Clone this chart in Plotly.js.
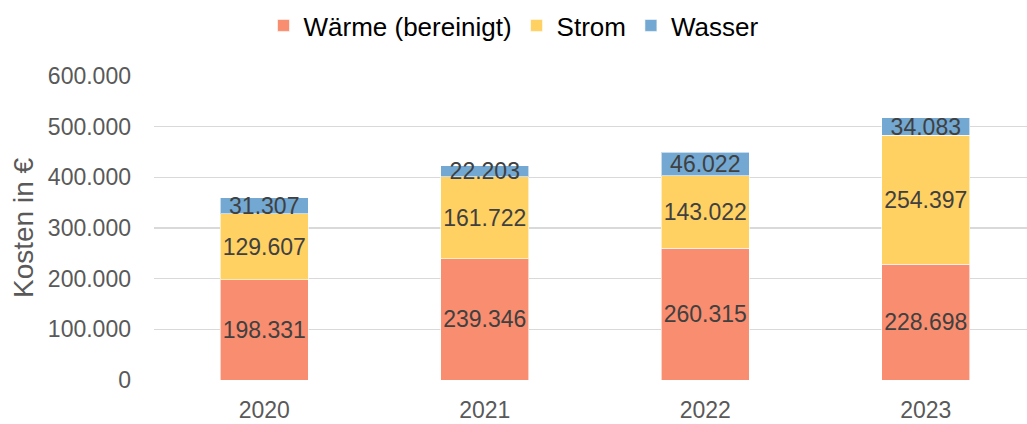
<!DOCTYPE html>
<html>
<head>
<meta charset="utf-8">
<script src="https://cdn.plot.ly/plotly-3.0.1.min.js"></script>
<style>html,body{margin:0;padding:0;background:#fff;}#chart{width:1027px;height:424px;}</style>
</head>
<body>
<div id="chart"></div>
<script>
const years = ['2020', '2021', '2022', '2023'];
const waerme = [198331, 239346, 260315, 228698];
const strom = [129607, 161722, 143022, 254397];
const wasser = [31307, 22203, 46022, 34083];
const yTicks = [0, 100000, 200000, 300000, 400000, 500000, 600000];
const yTickText = ['0', '100.000', '200.000', '300.000', '400.000', '500.000', '600.000'];

const font = 'Liberation Sans, Arial, sans-serif';
function series(name, vals, color) {
  return {
    type: 'bar', name: name, x: years, y: vals,
    marker: {color: color, line: {color: 'rgba(255,255,255,0.6)', width: 1}},
    width: 0.4,
    texttemplate: '%{y:,}',
    textposition: 'inside',
    insidetextanchor: 'middle',
    constraintext: 'none',
    textangle: 0,
    textfont: {family: font, size: 23, color: '#404040'},
    hoverinfo: 'skip'
  };
}
const data = [
  series('Wärme (bereinigt)', waerme, '#F98D6F'),
  series('Strom', strom, '#FFD163'),
  series('Wasser', wasser, '#72A8D1')
];
const layout = {
  width: 1027, height: 424,
  margin: {l: 154, r: 0, t: 76, b: 44},
  barmode: 'stack',
  separators: ',.',
  paper_bgcolor: '#fff', plot_bgcolor: '#fff',
  font: {family: font, color: '#595959'},
  showlegend: true,
  legend: {
    orientation: 'h', xref: 'container', yref: 'container',
    x: 0.5, xanchor: 'center', y: 1 - 2/424, yanchor: 'top',
    font: {family: font, size: 26, color: '#000'},
    traceorder: 'normal', itemwidth: 30
  },
  xaxis: {
    type: 'category', range: [-0.5, 3.459], showgrid: false, zeroline: false,
    showline: false, ticks: '', ticklabelstandoff: 14,
    tickfont: {family: font, size: 23, color: '#595959'}
  },
  yaxis: {
    range: [0, 600000], tickvals: yTicks, ticktext: yTickText,
    showgrid: true, gridcolor: '#D9D9D9', gridwidth: 1.5,
    zeroline: false, showline: false, ticks: '', ticklabelstandoff: 22,
    tickfont: {family: font, size: 23, color: '#595959'},
    title: {text: 'Kosten in €', font: {family: font, size: 28, color: '#595959'}, standoff: 6}
  }
};
Plotly.newPlot('chart', data, layout, {displayModeBar: false, staticPlot: true});
</script>
</body>
</html>
